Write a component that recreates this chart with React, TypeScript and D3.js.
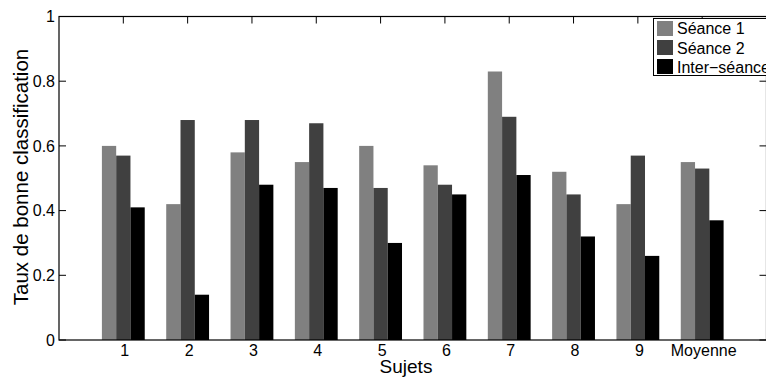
import React from "react";
import * as d3 from "d3";

const categories = ["1", "2", "3", "4", "5", "6", "7", "8", "9", "Moyenne"];
const seance1 = [0.6, 0.42, 0.58, 0.55, 0.6, 0.54, 0.83, 0.52, 0.42, 0.55];
const seance2 = [0.57, 0.68, 0.68, 0.67, 0.47, 0.48, 0.69, 0.45, 0.57, 0.53];
const interSeance = [0.41, 0.14, 0.48, 0.47, 0.3, 0.45, 0.51, 0.32, 0.26, 0.37];
const seriesNames = ["Séance 1", "Séance 2", "Inter−séance"];
const seriesColors = ["#808080", "#404040", "#000000"];
const yTicks = [0, 0.2, 0.4, 0.6, 0.8, 1];

const W = 766;
const H = 379;
const FONT = "'Liberation Sans', Arial, Helvetica, sans-serif";

export default function App() {
  const series = [seance1, seance2, interSeance];
  const x = d3.scaleLinear().domain([0, categories.length + 1]).range([59, 766.5]);
  const y = d3.scaleLinear().domain([0, 1]).range([340, 16.5]);
  const unit = x(1) - x(0);
  const barW = unit * 0.222;
  const offsets = [-1, 0, 1];
  const left = x(0);
  const right = x(categories.length + 1);
  const top = y(1);
  const bottom = y(0);
  const tickLen = 7;

  return (
    <svg
      width={W}
      height={H}
      style={{ position: "absolute", left: 0, top: 0, display: "block", background: "#fff" }}
      fontFamily={FONT}
    >
      <rect x={0} y={0} width={W} height={H} fill="#fff" />
      {series.map((vals, si) =>
        vals.map((v, i) => {
          const cx = x(i + 1) + offsets[si] * barW;
          return (
            <rect
              key={`${si}-${i}`}
              x={cx - barW / 2}
              y={y(v)}
              width={barW}
              height={y(0) - y(v)}
              fill={seriesColors[si]}
            />
          );
        })
      )}
      {/* axes box */}
      <rect x={left} y={top} width={right - left} height={bottom - top} fill="none" stroke="#000" strokeWidth={1.2} />
      {/* y ticks left & right */}
      {yTicks.map((t) => (
        <g key={t}>
          <line x1={left} x2={left + tickLen} y1={y(t)} y2={y(t)} stroke="#000" />
          <line x1={right - tickLen} x2={right} y1={y(t)} y2={y(t)} stroke="#000" />
          <text x={55} y={y(t)} dy="0.36em" textAnchor="end" fontSize={16} fill="#000">
            {d3.format("~g")(t)}
          </text>
        </g>
      ))}
      {/* x ticks top */}
      {categories.map((c, i) => (
        <line key={c} x1={x(i + 1)} x2={x(i + 1)} y1={top} y2={top + tickLen} stroke="#000" />
      ))}
      {/* x tick labels */}
      {categories.map((c, i) => (
        <text key={c} x={x(i + 1) + 1.5} y={356} textAnchor="middle" fontSize={16} fill="#000">
          {c}
        </text>
      ))}
      <text x={406} y={373} textAnchor="middle" fontSize={19} fill="#000">
        Sujets
      </text>
      <text
        transform={`translate(28, 177) rotate(-90)`}
        textAnchor="middle"
        fontSize={20.5}
        fill="#000"
      >
        Taux de bonne classification
      </text>
      {/* legend */}
      <g>
        <rect x={653.5} y={18.5} width={130} height={57} fill="#fff" stroke="#000" strokeWidth={1} />
        {seriesNames.map((n, i) => (
          <g key={n}>
            <rect x={657} y={21 + i * 19} width={16} height={15} fill={seriesColors[i]} />
            <text x={677} y={34 + i * 19.5} fontSize={16} fill="#000">
              {n}
            </text>
          </g>
        ))}
      </g>
    </svg>
  );
}
